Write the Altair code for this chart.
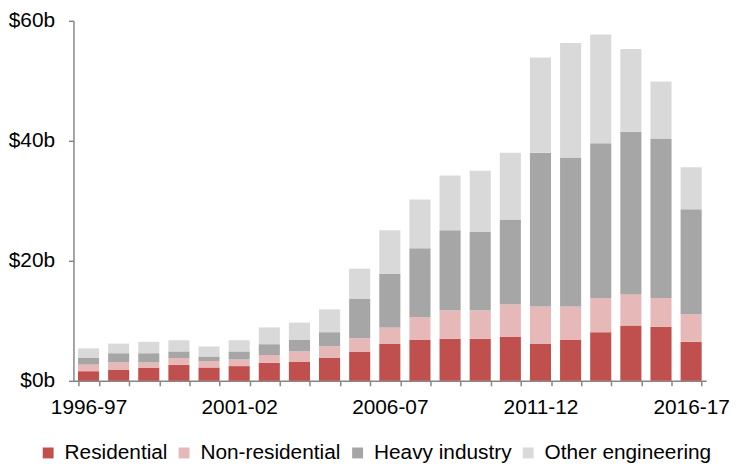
import altair as alt
import pandas as pd

years = ["1996-97", "1997-98", "1998-99", "1999-00", "2000-01", "2001-02", "2002-03",
         "2003-04", "2004-05", "2005-06", "2006-07", "2007-08", "2008-09", "2009-10",
         "2010-11", "2011-12", "2012-13", "2013-14", "2014-15", "2015-16", "2016-17"]
residential = [1.6, 1.8, 2.2, 2.65, 2.2, 2.45, 3.0, 3.2, 3.8, 4.8, 6.2, 6.8, 7.0, 7.0,
               7.3, 6.2, 6.8, 8.1, 9.2, 9.0, 6.5]
non_residential = [1.1, 1.25, 0.85, 1.15, 1.1, 1.1, 1.3, 1.7, 1.95, 2.3, 2.7, 3.8, 4.7,
                   4.7, 5.4, 6.2, 5.6, 5.7, 5.2, 4.8, 4.6]
heavy_industry = [1.1, 1.55, 1.55, 1.1, 0.75, 1.35, 1.8, 1.9, 2.35, 6.6, 8.9, 11.5, 13.4,
                  13.1, 14.2, 25.6, 24.8, 25.8, 27.1, 26.6, 17.5]
other_engineering = [1.6, 1.6, 1.9, 1.85, 1.65, 1.85, 2.8, 2.9, 3.8, 5.0, 7.3, 8.1, 9.1,
                     10.2, 11.1, 15.9, 19.1, 18.1, 13.8, 9.5, 7.0]

series = ["Residential", "Non-residential", "Heavy industry", "Other engineering"]
colors = ["#C0504D", "#E6B9B8", "#A6A6A6", "#D9D9D9"]
shown_labels = ["1996-97", "2001-02", "2006-07", "2011-12", "2016-17"]

rows = []
for s_idx, (name, vals) in enumerate(zip(series, [residential, non_residential,
                                                  heavy_industry, other_engineering])):
    for y, v in zip(years, vals):
        rows.append({"year": y, "series": name, "value": v, "order": s_idx})
df = pd.DataFrame(rows)

label_list = "[" + ",".join("'" + s + "'" for s in shown_labels) + "]"

chart = alt.Chart(df).mark_bar().encode(
    x=alt.X("year:N", sort=years,
            scale=alt.Scale(paddingInner=0.3, paddingOuter=0.15),
            axis=alt.Axis(title=None, labelAngle=0, tickBand="extent", tickSize=5,
                          labelExpr="indexof(" + label_list + ", datum.value) >= 0 ? datum.value : ''",
                          labelOverlap=False, labelPadding=11, labelFontSize=21,
                          labelFont="Liberation Sans", labelColor="#000000",
                          domainColor="#868686", tickColor="#868686",
                          domainWidth=1.5, tickWidth=1.5)),
    y=alt.Y("value:Q", stack="zero",
            scale=alt.Scale(domain=[0, 60], nice=False),
            axis=alt.Axis(title=None, values=[0, 20, 40, 60], grid=False, tickSize=5,
                          labelExpr="'$' + datum.value + 'b'", labelPadding=14,
                          labelFontSize=21, labelFont="Liberation Sans",
                          labelColor="#000000", domainColor="#868686",
                          tickColor="#868686", domainWidth=1.5, tickWidth=1.5)),
    color=alt.Color("series:N", sort=series,
                    scale=alt.Scale(domain=series, range=colors),
                    legend=alt.Legend(title=None, orient="none", direction="horizontal",
                                      legendX=-36, legendY=425, symbolType="square",
                                      symbolSize=121, symbolStrokeWidth=0,
                                      labelFontSize=21, labelFont="Liberation Sans",
                                      labelColor="#000000", labelOffset=6,
                                      columnPadding=6, labelLimit=300)),
    order=alt.Order("order:Q", sort="ascending"),
).properties(
    width=638, height=363, padding={"left": 0, "top": 0, "right": 0, "bottom": 0}
).configure_view(stroke=None)

chart.save("out.html", embed_options={"renderer": "svg", "actions": False})
